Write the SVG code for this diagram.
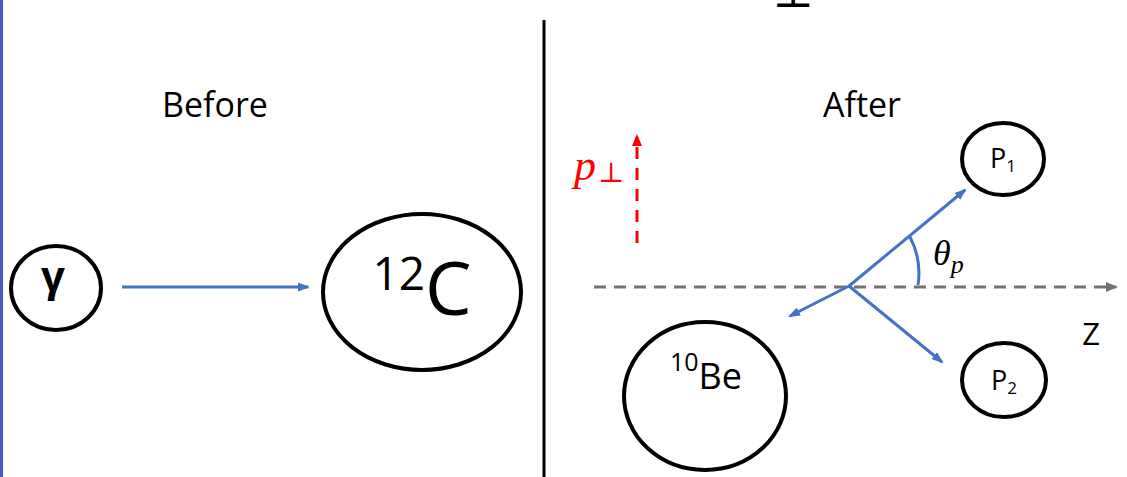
<svg xmlns="http://www.w3.org/2000/svg" width="1127" height="477" viewBox="0 0 1127 477">
<style>
.node{fill:#fff;stroke:#000;stroke-width:4}
.lbl{font-family:"Open Sans","Liberation Sans",sans-serif;fill:#000}
.blue{stroke:#4472c4;stroke-width:3;fill:none}
.math{font-family:"Liberation Serif","DejaVu Serif",serif;font-style:italic}
</style>
<defs>
<marker id="ab" markerWidth="12" markerHeight="9" refX="10" refY="4.5" orient="auto" markerUnits="userSpaceOnUse"><path d="M0,0L12,4.5L0,9z" fill="#4472c4"/></marker>
<marker id="ar" markerWidth="12" markerHeight="10" refX="9" refY="5" orient="auto" markerUnits="userSpaceOnUse"><path d="M0,0L12,5L0,10z" fill="#ff0000"/></marker>
<marker id="ag" markerWidth="12" markerHeight="10" refX="10" refY="5" orient="auto" markerUnits="userSpaceOnUse"><path d="M0,0L12,5L0,10z" fill="#767171"/></marker>
</defs>
<rect width="1127" height="477" fill="#fff"/>
<rect x="0" y="0" width="3" height="477" fill="#4a5acd"/>
<line x1="544" y1="20" x2="544" y2="477" stroke="#000" stroke-width="3"/>
<text class="lbl" x="215" y="117" font-size="34" text-anchor="middle">Before</text>
<text class="lbl" x="862" y="117" font-size="34" text-anchor="middle">After</text>
<text class="math" x="793" y="7" font-size="44" text-anchor="middle">⊥</text>
<g id="connectors">
<line class="blue" x1="122" y1="287" x2="308" y2="287" marker-end="url(#ab)"/>
<line x1="594" y1="287" x2="1116" y2="287" stroke="#767171" stroke-width="3" stroke-dasharray="12,8" marker-end="url(#ag)"/>
<line x1="637" y1="243" x2="637" y2="137" stroke="#ff0000" stroke-width="3" stroke-dasharray="12,9" marker-end="url(#ar)"/>
<line class="blue" x1="849" y1="286" x2="965" y2="190" marker-end="url(#ab)"/>
<line class="blue" x1="849" y1="286" x2="942" y2="362" marker-end="url(#ab)"/>
<line class="blue" x1="849" y1="286" x2="790" y2="316" marker-end="url(#ab)"/>
<path class="blue" d="M910,237 A78,78 0 0 1 918,285"/>
</g>
<text x="574" y="180" font-size="44" fill="#ff0000" class="math">p<tspan font-size="28" font-style="normal" dx="2" dy="2">⊥</tspan></text>
<text x="933" y="265" font-size="36" class="math">θ<tspan font-size="26" dy="8">p</tspan></text>
<text class="lbl" x="1091" y="345" font-size="31" text-anchor="middle">Z</text>
<g id="gamma"><ellipse class="node" cx="56" cy="288" rx="45" ry="42"/><text class="lbl" x="53" y="291" font-size="42" font-weight="bold" text-anchor="middle">γ</text></g>
<g id="c12"><ellipse class="node" cx="422" cy="292" rx="99" ry="78"/><text class="lbl" x="422" y="315" text-anchor="middle"><tspan font-size="46" dy="-25">12</tspan><tspan font-size="74" dy="25">C</tspan></text></g>
<g id="be10"><ellipse class="node" cx="705" cy="396" rx="81" ry="74"/><text class="lbl" x="706" y="389" text-anchor="middle"><tspan font-size="25" dy="-18">10</tspan><tspan font-size="36" dy="18">Be</tspan></text></g>
<g id="p1"><ellipse class="node" cx="1003" cy="159" rx="41" ry="36"/><text class="lbl" x="1003" y="168" text-anchor="middle" font-size="27">P<tspan font-size="17" dy="4">1</tspan></text></g>
<g id="p2"><ellipse class="node" cx="1004" cy="380" rx="42" ry="37"/><text class="lbl" x="1004" y="390" text-anchor="middle" font-size="27">P<tspan font-size="17" dy="4">2</tspan></text></g>
</svg>
